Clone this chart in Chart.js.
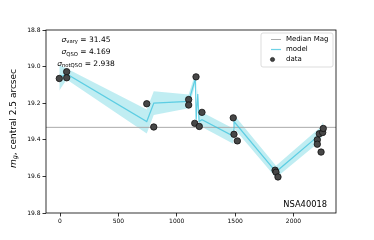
<!DOCTYPE html>
<html><head><meta charset="utf-8">
<script src="https://cdn.jsdelivr.net/npm/chart.js@4"></script>
<style>html,body{margin:0;padding:0;background:#fff}#c{display:block}</style>
</head><body>
<canvas id="c" width="374" height="240"></canvas>
<script>
// observed data
const obsDays = [-6, 57, 57, 743, 803, 1102, 1102, 1165, 1154, 1193, 1216, 1484, 1490, 1519, 1842, 1850, 1867, 2204, 2204, 2221, 2236, 2250, 2255];
const obsMag  = [19.065, 19.028, 19.061, 19.203, 19.33, 19.18, 19.21, 19.056, 19.31, 19.327, 19.25, 19.28, 19.37, 19.406, 19.566, 19.577, 19.603, 19.40, 19.424, 19.367, 19.467, 19.36, 19.338];
// model curve and its uncertainty
const modelDays = [-6, 57, 743, 803, 1102, 1160, 1166, 1180, 1191, 1216, 1484, 1490, 1850, 2210, 2236, 2255];
const modelMag  = [19.06, 19.04, 19.30, 19.20, 19.19, 19.065, 19.29, 19.15, 19.30, 19.29, 19.38, 19.30, 19.575, 19.38, 19.36, 19.33];
const modelSig  = [0.07, 0.03, 0.065, 0.065, 0.038, 0.03, 0.03, 0.03, 0.03, 0.04, 0.042, 0.037, 0.033, 0.037, 0.032, 0.03];
const medianMag = 19.332;
const xTicks = [0, 500, 1000, 1500, 2000];
const yTicks = [18.8, 19.0, 19.2, 19.4, 19.6, 19.8];
const xRange = [-120, 2364];
const yRange = [18.8, 19.8];
const sigmaLabels = [["vary", "31.45"], ["QSO", "4.169"], ["notQSO", "2.938"]];
const objectName = "NSA40018";
const legendLabels = ["Median Mag", "model", "data"];

const FONT = "DejaVu Sans";
const modelColor = "rgba(60,195,222,0.75)";
const bandColor = "rgba(23,190,207,0.27)";

const pts = (xs, ys) => xs.map((x, i) => ({x, y: ys[i]}));

const annot = {
  id: 'annot',
  afterDraw(chart) {
    const c = chart.ctx, a = chart.chartArea;
    c.save();
    // frame
    c.strokeStyle = '#000'; c.lineWidth = 0.8;
    c.strokeRect(a.left, a.top, a.right - a.left, a.bottom - a.top);
    c.fillStyle = '#000';
    c.textBaseline = 'alphabetic';
    // sigma annotations, centered
    const fs = 7.5, fsub = 5.3;
    const ys = [41.5, 54, 65.5];
    sigmaLabels.forEach((s, i) => {
      c.font = `oblique ${fs}px "${FONT}"`; const w1 = c.measureText('σ').width;
      c.font = `${fsub}px "${FONT}"`; const w2 = c.measureText(s[0]).width;
      c.font = `${fs}px "${FONT}"`; const t3 = ' = ' + s[1]; const w3 = c.measureText(t3).width;
      let x = 86 - (w1 + w2 + w3) / 2;
      c.textAlign = 'left';
      c.font = `oblique ${fs}px "${FONT}"`; c.fillText('σ', x, ys[i]); x += w1;
      c.font = `${fsub}px "${FONT}"`; c.fillText(s[0], x, ys[i] + 1.8); x += w2;
      c.font = `${fs}px "${FONT}"`; c.fillText(t3, x, ys[i]);
    });
    // object name
    c.font = `8.3px "${FONT}"`; c.textAlign = 'right'; c.textBaseline = 'middle';
    c.fillText(objectName, 327, 204.5);
    // legend
    const lx = 261, ly = 33, lw = 72, lh = 34;
    c.beginPath();
    if (c.roundRect) c.roundRect(lx, ly, lw, lh, 2); else c.rect(lx, ly, lw, lh);
    c.fillStyle = 'rgba(255,255,255,0.8)'; c.fill();
    c.strokeStyle = '#d4d4d4'; c.lineWidth = 0.8; c.stroke();
    const ey = [39.5, 49.5, 59.5];
    c.lineWidth = 1;
    c.strokeStyle = '#aaaaaa'; c.beginPath(); c.moveTo(271, ey[0]); c.lineTo(281, ey[0]); c.stroke();
    c.strokeStyle = modelColor; c.lineWidth = 1.2; c.beginPath(); c.moveTo(271, ey[1]); c.lineTo(281, ey[1]); c.stroke();
    c.beginPath(); c.arc(272.5, ey[2], 2.1, 0, Math.PI * 2);
    c.fillStyle = '#444'; c.fill(); c.strokeStyle = '#111'; c.lineWidth = 0.6; c.stroke();
    c.fillStyle = '#000'; c.font = `7px "${FONT}"`; c.textAlign = 'left'; c.textBaseline = 'middle';
    legendLabels.forEach((t, i) => c.fillText(t, 286, ey[i]));
    // y axis label (rotated)
    c.translate(13.5, (a.top + a.bottom) / 2 - 3);
    c.rotate(-Math.PI / 2);
    const f = 9;
    c.font = `oblique ${f}px "${FONT}"`; const m1 = c.measureText('m').width;
    c.font = `oblique ${f * 0.7}px "${FONT}"`; const m2 = c.measureText('g').width;
    c.font = `${f}px "${FONT}"`; const rest = ', central 2.5 arcsec'; const m3 = c.measureText(rest).width;
    let x = -(m1 + m2 + m3) / 2;
    c.textBaseline = 'middle'; c.textAlign = 'left';
    c.font = `oblique ${f}px "${FONT}"`; c.fillText('m', x, 0); x += m1;
    c.font = `oblique ${f * 0.7}px "${FONT}"`; c.fillText('g', x, 2.2); x += m2;
    c.font = `${f}px "${FONT}"`; c.fillText(rest, x, 0);
    c.restore();
  }
};

const tickGrid = {display: true, drawOnChartArea: false, drawTicks: true, tickLength: 3.5, tickColor: '#000', tickWidth: 0.8};

new Chart(document.getElementById('c').getContext('2d'), {
  type: 'scatter',
  data: {
    datasets: [
      {label: 'data', data: pts(obsDays, obsMag), pointRadius: 3.2, pointBackgroundColor: '#474747', pointBorderColor: '#111', pointBorderWidth: 0.8, order: 0},
      {label: 'model', data: pts(modelDays, modelMag), showLine: true, borderColor: modelColor, borderWidth: 1.2, pointRadius: 0, tension: 0, order: 1},
      {label: 'Median Mag', data: pts(xRange, [medianMag, medianMag]), showLine: true, borderColor: '#aaaaaa', borderWidth: 1, pointRadius: 0, order: 2},
      {label: 'lo', data: pts(modelDays, modelMag.map((m, i) => m + modelSig[i])), showLine: true, borderWidth: 0, borderColor: 'rgba(0,0,0,0)', pointRadius: 0, order: 3},
      {label: 'hi', data: pts(modelDays, modelMag.map((m, i) => m - modelSig[i])), showLine: true, borderWidth: 0, borderColor: 'rgba(0,0,0,0)', pointRadius: 0, fill: 3, backgroundColor: bandColor, order: 4}
    ]
  },
  options: {
    responsive: false, animation: false, devicePixelRatio: 1,
    plugins: {legend: {display: false}, tooltip: {enabled: false}},
    layout: {padding: {left: 0, top: 30, right: 38, bottom: 0}},
    scales: {
      x: {
        type: 'linear', min: xRange[0], max: xRange[1],
        afterBuildTicks: s => { s.ticks = xTicks.map(v => ({value: v})); },
        afterFit: s => { s.height = 27; },
        grid: tickGrid, border: {display: false},
        ticks: {font: {family: FONT, size: 6}, color: '#000', padding: 1.5, maxRotation: 0, autoSkip: false, callback: v => String(v)}
      },
      y: {
        type: 'linear', reverse: true, min: yRange[0], max: yRange[1],
        afterBuildTicks: s => { s.ticks = yTicks.map(v => ({value: v})); },
        afterFit: s => { s.width = 46; },
        grid: tickGrid, border: {display: false},
        ticks: {font: {family: FONT, size: 6}, color: '#000', padding: 2, autoSkip: false, callback: v => Number(v).toFixed(1)}
      }
    }
  },
  plugins: [annot]
});
</script>
</body></html>
